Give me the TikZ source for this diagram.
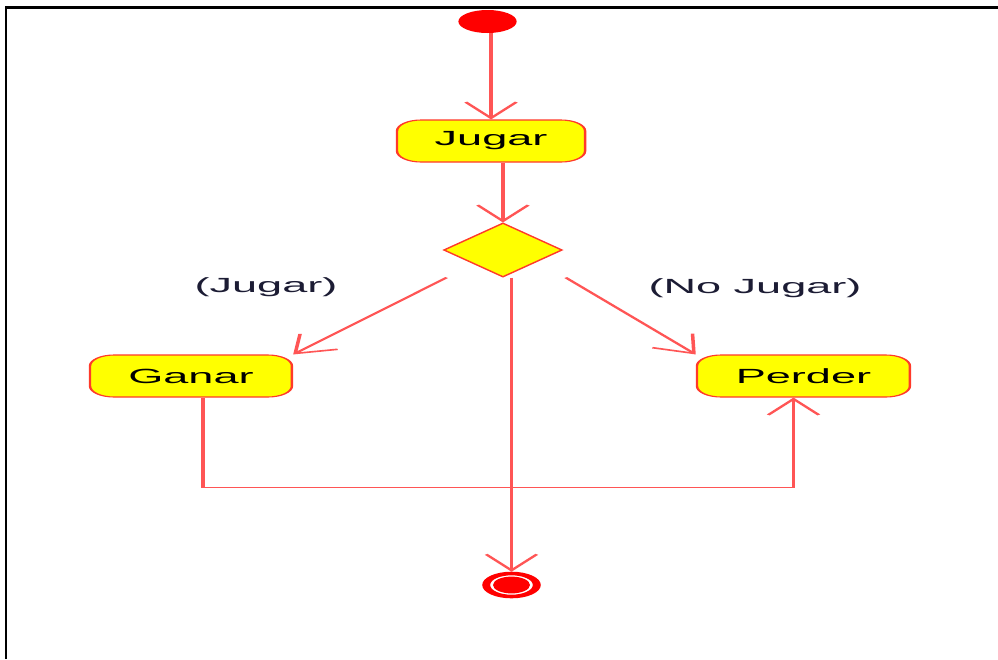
\documentclass[tikz,border=0pt]{standalone}
\usepackage{fontspec}
\setmainfont{Liberation Sans}
\usetikzlibrary{shapes.geometric,arrows.meta,calc}

\definecolor{linered}{HTML}{FF5555}
\definecolor{boxred}{HTML}{FF3A2A}
\definecolor{boxfill}{HTML}{FFFF00}
\definecolor{dotred}{HTML}{FF0000}
\definecolor{labelink}{HTML}{1C1C34}

\tikzset{
  activity/.style={rectangle, rounded corners=11pt, draw=boxred, line width=1.1pt,
    fill=boxfill, minimum height=42pt, inner sep=0pt, text=black,
    font=\fontsize{20.5}{24}\selectfont},
  decision/.style={diamond, draw=boxred, line width=1.1pt, fill=boxfill,
    minimum size=54pt, inner sep=0pt, aspect=1},
  guard/.style={text=labelink, font=\fontsize{20.5}{24}\selectfont, inner sep=0pt},
  flow/.style={draw=linered, line width=1.6pt},
  tip/.style={-{Straight Barb[length=16pt,width=23pt]}},
}

\begin{document}
\begin{tikzpicture}[x=1pt,y=-1pt]
  \useasboundingbox (0,0) rectangle (998,659);
  \fill[white] (0,0) rectangle (998,659);
  % outer frame (top and left edges)
  \draw[black, line width=2.6pt] (6,659) -- (6,7.5) -- (998,7.5);

  % the activity diagram, drawn narrow and stretched sideways
  \begin{scope}[transform canvas={xscale=2.2}]
    \node[ellipse, fill=dotred, minimum width=26.5pt, minimum height=23pt, inner sep=0pt] (start) at (221.6,21.5) {};
    \node[activity, minimum width=85.5pt] (jugar) at (223.2,141) {Jugar};
    \node[decision] (dec) at (228.6,250) {};
    \node[activity, minimum width=91.8pt] (ganar) at (86.8,376) {Ganar};
    \node[activity, minimum width=96.8pt] (perder) at (365.2,376) {Perder};
    \node[circle, draw=dotred, line width=3.6pt, fill=white, minimum size=23pt,
      inner sep=0pt] (final) at (232.5,585) {};
    \fill[dotred] (final.center) circle (8.4);

    \node[guard] (lj) at (120.9,287.5) {(Jugar)};
    \node[guard] (lnj) at (343.2,288) {(No Jugar)};

    \coordinate (dl) at ($(dec.west |- dec.south)+(2,0)$);
    \coordinate (dr) at ($(dec.east |- dec.south)+(1,0)$);

    \draw[flow, tip] (start.south -| jugar.north) -- (jugar.north);
    \draw[flow, tip] (jugar.south -| dec.north) -- (dec.north);
    \draw[flow, tip] (dl) -- (ganar.north east);
    \draw[flow, tip] (dr) -- (perder.north west);
    \draw[flow, tip] (dec.south -| final.north) -- (final.north);
    \draw[flow, tip] ([xshift=5.5pt]ganar.south) -- ++(0,90) -| ([xshift=-4.5pt]perder.south);
  \end{scope}
\end{tikzpicture}
\end{document}
